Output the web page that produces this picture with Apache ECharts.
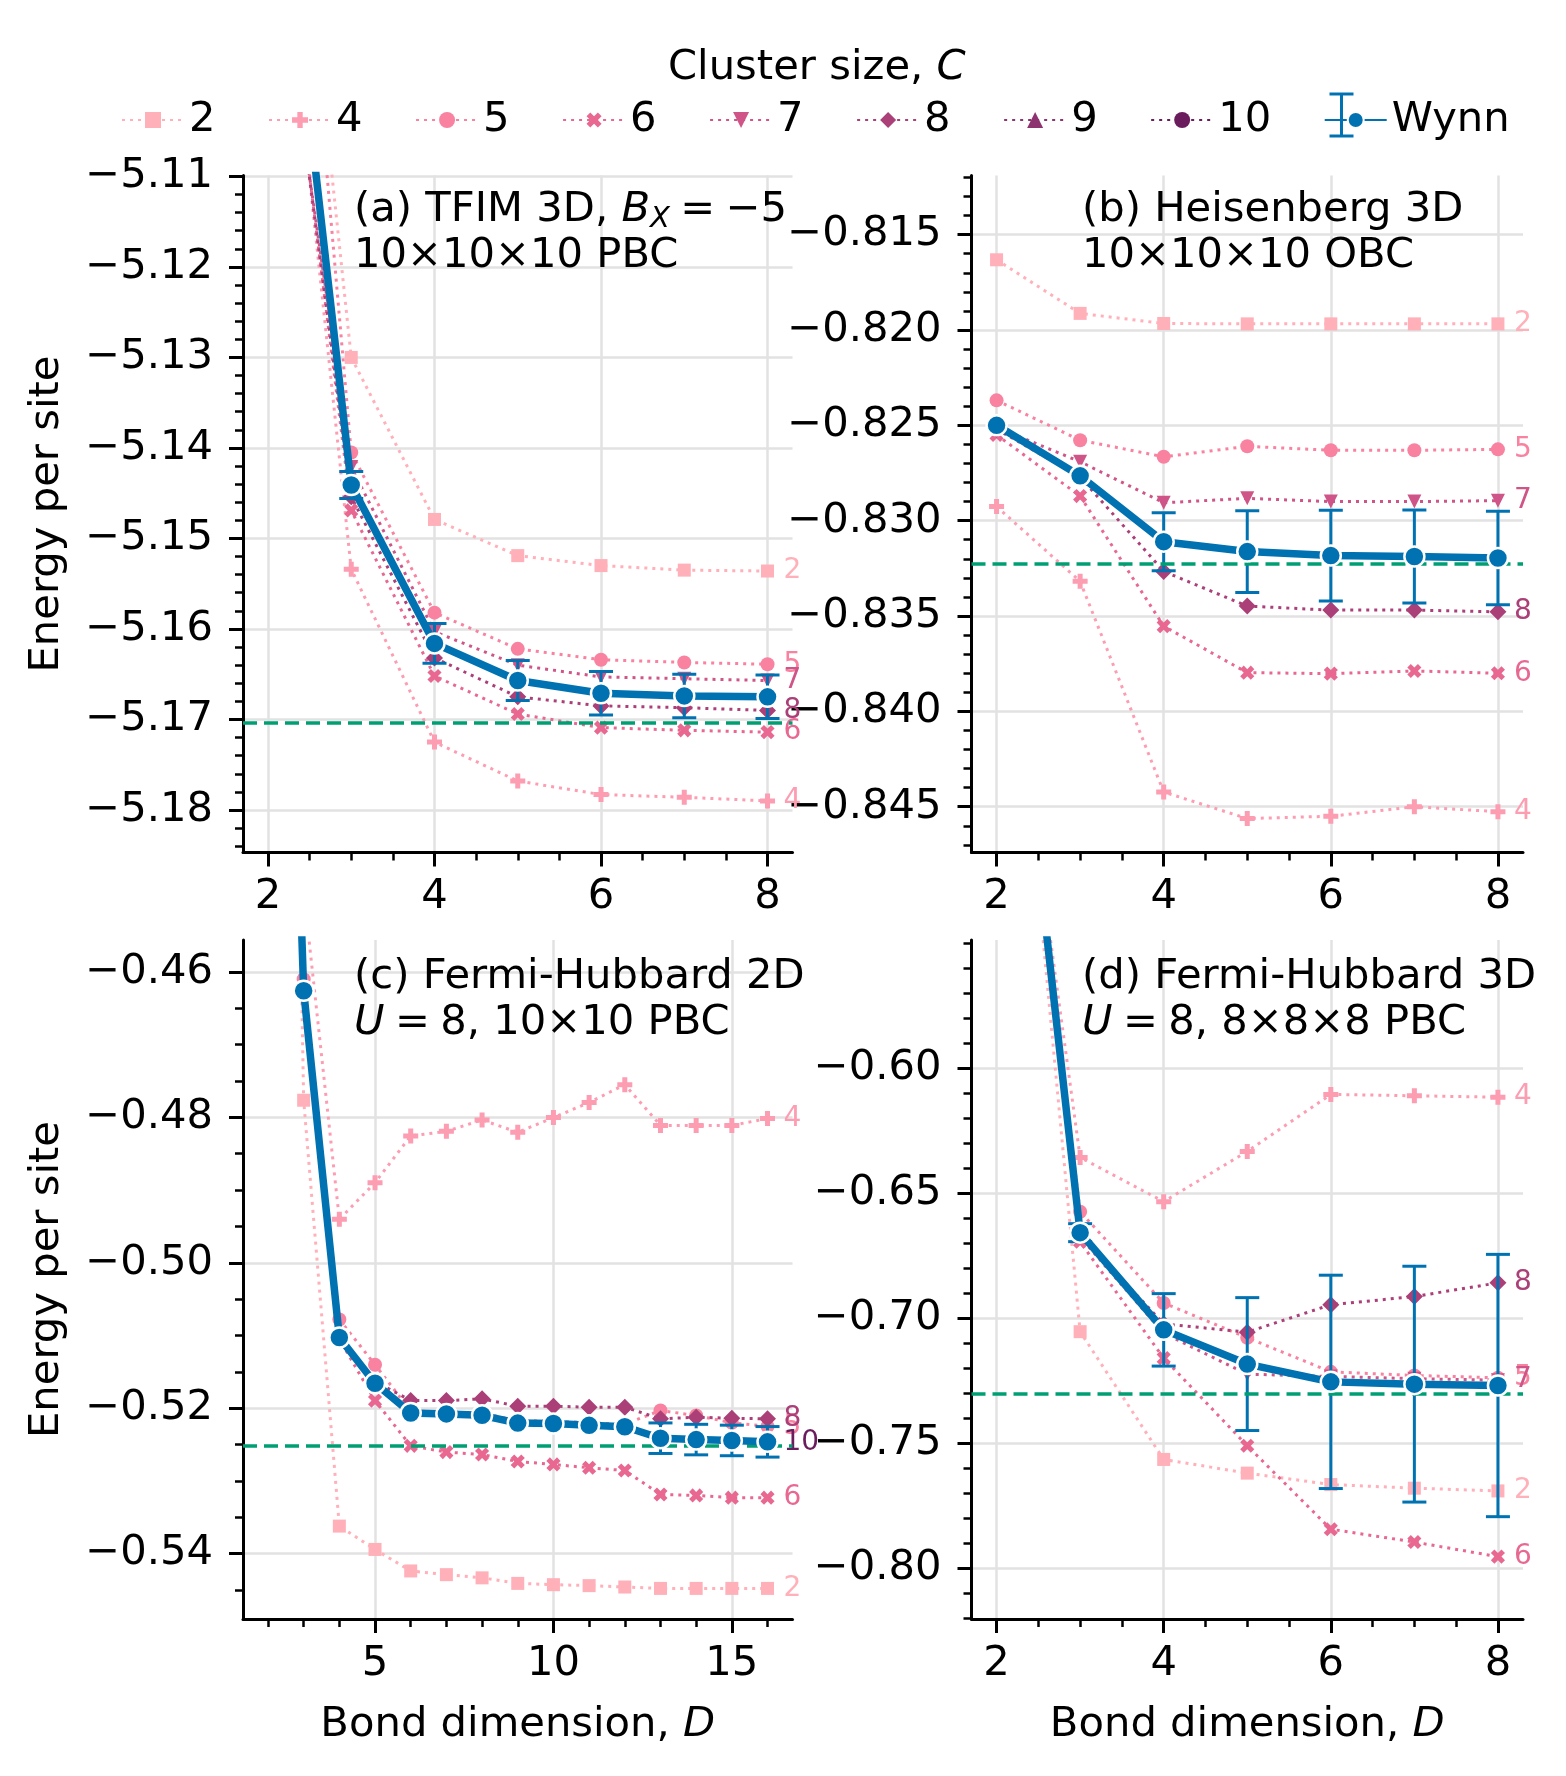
<!DOCTYPE html>
<html>
<head>
<meta charset="utf-8">
<script src="https://cdn.jsdelivr.net/npm/echarts@6.0.0/dist/echarts.min.js"></script>
<style>
html, body { margin: 0; padding: 0; background: #fff; }
#chart { width: 1566px; height: 1776px; }
</style>
</head>
<body>
<div id="chart"></div>
<script>
// ---- data (energy per site vs bond dimension D) ----
var dims8 = [2, 3, 4, 5, 6, 7, 8];
var dims16 = [2, 3, 4, 5, 6, 7, 8, 9, 10, 11, 12, 13, 14, 15, 16];

// (a) TFIM 3D
var tfimC2 = [-5.043, -5.1300, -5.1479, -5.1519, -5.1530, -5.1535, -5.1536];
var tfimC4 = [-5.067, -5.1534, -5.1725, -5.1768, -5.1783, -5.1786, -5.1790];
var tfimC5 = [-5.035, -5.1405, -5.1582, -5.1622, -5.1634, -5.1637, -5.1639];
var tfimC6 = [-5.073, -5.1469, -5.1652, -5.1694, -5.1709, -5.1712, -5.1714];
var tfimC7 = [-5.078, -5.1421, -5.1603, -5.1640, -5.1653, -5.1655, -5.1657];
var tfimC8 = [-5.075, -5.1454, -5.1632, -5.1675, -5.1685, -5.1687, -5.1690];
var tfimWynn = [-5.063, -5.1441, -5.1616, -5.1657, -5.1671, -5.1674, -5.1675];
var tfimWynnErr = [0, 0.0015, 0.0022, 0.0022, 0.0024, 0.0024, 0.0024];
var tfimRef = -5.1704;

// (b) Heisenberg 3D
var heisC2 = [-0.81632, -0.81913, -0.81966, -0.81968, -0.81968, -0.81968, -0.81968];
var heisC4 = [-0.82926, -0.83318, -0.84423, -0.84562, -0.84550, -0.84500, -0.84526];
var heisC5 = [-0.82369, -0.82578, -0.82665, -0.82610, -0.82631, -0.82631, -0.82626];
var heisC6 = [-0.82550, -0.82871, -0.83553, -0.83797, -0.83802, -0.83788, -0.83800];
var heisC7 = [-0.82510, -0.82691, -0.82906, -0.82883, -0.82900, -0.82900, -0.82895];
var heisC8 = [-0.82520, -0.82770, -0.83266, -0.83448, -0.83469, -0.83469, -0.83478];
var heisWynn = [-0.82500, -0.82765, -0.83110, -0.83162, -0.83183, -0.83188, -0.83196];
var heisWynnErr = [0, 0, 0.00152, 0.00214, 0.00238, 0.00244, 0.00245];
var heisRef = -0.83225;

// (c) Fermi-Hubbard 2D
var fh2C2 = [-0.21, -0.47764, -0.53622, -0.53943, -0.54239, -0.54290, -0.54334, -0.54410, -0.54428, -0.54441, -0.54460, -0.54479, -0.54479, -0.54479, -0.54479];
var fh2C4 = [-0.40, -0.44880, -0.49402, -0.48898, -0.48255, -0.48192, -0.48035, -0.48205, -0.48003, -0.47795, -0.47550, -0.48110, -0.48110, -0.48110, -0.48016];
var fh2C5 = [-0.32, -0.46100, -0.50780, -0.51402, -0.52040, -0.52050, -0.52070, -0.52170, -0.52180, -0.52200, -0.52220, -0.52033, -0.52101, -0.52200, -0.52250];
var fh2C6 = [-0.33, -0.46300, -0.51050, -0.51896, -0.52518, -0.52604, -0.52637, -0.52733, -0.52774, -0.52820, -0.52857, -0.53187, -0.53200, -0.53231, -0.53231];
var fh2C8 = [-0.32, -0.46250, -0.51000, -0.51630, -0.51896, -0.51896, -0.51872, -0.51973, -0.51973, -0.51986, -0.51986, -0.52147, -0.52124, -0.52138, -0.52147];
var fh2C10 = [-0.32, -0.46280, -0.51040, -0.51670, -0.52080, -0.52090, -0.52110, -0.52220, -0.52220, -0.52250, -0.52270, -0.52430, -0.52450, -0.52460, -0.52480];
var fh2Wynn = [-0.316, -0.46258, -0.51027, -0.51657, -0.52066, -0.52079, -0.52098, -0.52205, -0.52211, -0.52236, -0.52255, -0.52413, -0.52432, -0.52444, -0.52463];
var fh2WynnErr = [0, 0, 0, 0, 0, 0, 0, 0, 0, 0, 0, 0.0021, 0.0021, 0.0021, 0.0021];
var fh2Ref = -0.5252;

// (d) Fermi-Hubbard 3D
var fh3C2 = [-0.351, -0.70539, -0.75653, -0.76201, -0.76658, -0.76804, -0.76913];
var fh3C4 = [-0.390, -0.63562, -0.65333, -0.63324, -0.61041, -0.61096, -0.61151];
var fh3C5 = [-0.385, -0.65736, -0.69391, -0.70780, -0.72146, -0.72292, -0.72384];
var fh3C6 = [-0.372, -0.66940, -0.71598, -0.75105, -0.78447, -0.78959, -0.79543];
var fh3C7 = [-0.380, -0.66750, -0.70600, -0.72240, -0.72330, -0.72420, -0.72480];
var fh3C8 = [-0.378, -0.66650, -0.70228, -0.70557, -0.69461, -0.69132, -0.68584];
var fh3Wynn = [-0.368, -0.66575, -0.70466, -0.71836, -0.72548, -0.72639, -0.72694];
var fh3WynnErr = [0, 0.0036, 0.0145, 0.0266, 0.0427, 0.0472, 0.0525];
var fh3Ref = -0.73023;

// tick labels
var xTicks8 = [2, 4, 6, 8];
var xTicks16 = [5, 10, 15];
var yTicksA = [-5.18, -5.17, -5.16, -5.15, -5.14, -5.13, -5.12, -5.11];
var yTicksB = [-0.845, -0.840, -0.835, -0.830, -0.825, -0.820, -0.815];
var yTicksC = [-0.54, -0.52, -0.50, -0.48, -0.46];
var yTicksD = [-0.80, -0.75, -0.70, -0.65, -0.60];

var legendNames = ['2', '4', '5', '6', '7', '8', '9', '10', 'Wynn'];

// ---- styles ----
var FONT = 'DejaVu Sans';
var BLUE = '#0072b2';
var GREEN = '#009e73';
var GRIDC = '#e2e2e2';
var SP = '\u2005';
var plusPath = 'path://M-1,-3H1V-1H3V1H1V3H-1V1H-3V-1H-1Z';
var clusterStyle = {
  '2':  { color: '#ffb0b9', symbol: 'rect', size: 13 },
  '4':  { color: '#fd9db2', symbol: plusPath, size: 15 },
  '5':  { color: '#f8829f', symbol: 'circle', size: 14 },
  '6':  { color: '#e86891', symbol: plusPath, size: 15, rotate: 45 },
  '7':  { color: '#cf5487', symbol: 'triangle', size: 14, rotate: 180 },
  '8':  { color: '#ab3f77', symbol: 'diamond', size: 17 },
  '9':  { color: '#8c3370', symbol: 'triangle', size: 13 },
  '10': { color: '#6b1c5c', symbol: 'circle', size: 10 }
};

function stepTicks(lo, hi, step) {
  var out = [];
  var k0 = Math.ceil(lo / step - 1e-9), k1 = Math.floor(hi / step + 1e-9);
  for (var k = k0; k <= k1; k++) out.push(+(k * step).toFixed(6));
  return out;
}
function pairs(xs, ys) {
  return xs.map(function (x, i) { return [x, ys[i]]; });
}
function minusFmt(dec) {
  return function (v) { return (v < 0 ? '\u2212' : '') + Math.abs(v).toFixed(dec); };
}

var panels = [
  { grid: { left: 243, top: 175.5, width: 549.5, height: 677 },
    xMin: 1.7, xMax: 8.3, xTicks: xTicks8, xMinor: 0.5,
    yMin: -5.1847, yMax: -5.1099, yTicks: yTicksA, yMinor: 0.002, yDec: 2,
    yName: 'Energy per site', xName: '',
    dims: dims8, curves: { '2': tfimC2, '4': tfimC4, '5': tfimC5, '6': tfimC6, '7': tfimC7, '8': tfimC8 },
    wynn: tfimWynn, err: tfimWynnErr, ref: tfimRef,
    text: '(a) TFIM 3D, {i|B}{s|X}' + SP + '=' + SP + '\u22125\n10\u00d710\u00d710 PBC', tx: 349, ty: 182.5 },
  { grid: { left: 971.5, top: 175.5, width: 551.5, height: 677 },
    xMin: 1.7, xMax: 8.3, xTicks: xTicks8, xMinor: 0.5,
    yMin: -0.8474, yMax: -0.8119, yTicks: yTicksB, yMinor: 0.001, yDec: 3,
    yName: '', xName: '',
    dims: dims8, curves: { '2': heisC2, '4': heisC4, '5': heisC5, '6': heisC6, '7': heisC7, '8': heisC8 },
    wynn: heisWynn, err: heisWynnErr, ref: heisRef,
    text: '(b) Heisenberg 3D\n10\u00d710\u00d710 OBC', tx: 1077, ty: 182.5 },
  { grid: { left: 243, top: 940, width: 549.5, height: 679 },
    xMin: 1.3, xMax: 16.7, xTicks: xTicks16, xMinor: 1,
    yMin: -0.549, yMax: -0.4556, yTicks: yTicksC, yMinor: 0.005, yDec: 2,
    yName: 'Energy per site', xName: 'Bond dimension, {i|D}',
    dims: dims16, curves: { '2': fh2C2, '4': fh2C4, '5': fh2C5, '6': fh2C6, '8': fh2C8, '10': fh2C10 },
    wynn: fh2Wynn, err: fh2WynnErr, ref: fh2Ref,
    text: '(c) Fermi-Hubbard 2D\n{i|U}' + SP + '=' + SP + '8, 10\u00d710 PBC', tx: 349, ty: 949 },
  { grid: { left: 971.5, top: 940, width: 551.5, height: 679 },
    xMin: 1.7, xMax: 8.3, xTicks: xTicks8, xMinor: 0.5,
    yMin: -0.8204, yMax: -0.5486, yTicks: yTicksD, yMinor: 0.01, yDec: 2,
    yName: '', xName: 'Bond dimension, {i|D}',
    dims: dims8, curves: { '2': fh3C2, '4': fh3C4, '5': fh3C5, '6': fh3C6, '7': fh3C7, '8': fh3C8 },
    wynn: fh3Wynn, err: fh3WynnErr, ref: fh3Ref,
    text: '(d) Fermi-Hubbard 3D\n{i|U}' + SP + '=' + SP + '8, 8\u00d78\u00d78 PBC', tx: 1077, ty: 949 }
];

var richText = {
  i: { fontStyle: 'italic', fontSize: 41.7, fontFamily: FONT, lineHeight: 46, color: '#000' },
  s: { fontStyle: 'italic', fontSize: 29, fontFamily: FONT, lineHeight: 22, verticalAlign: 'bottom', color: '#000' }
};

var grids = [], xAxes = [], yAxes = [], series = [], titles = [];

titles.push({
  text: 'Cluster size, {i|C}', left: 663, top: 40,
  textStyle: { fontSize: 41.7, fontWeight: 'normal', fontFamily: FONT, color: '#000', lineHeight: 46, rich: richText }
});

panels.forEach(function (p, gi) {
  grids.push({ left: p.grid.left, top: p.grid.top, width: p.grid.width, height: p.grid.height, outerBoundsMode: 'none' });

  xAxes.push({
    gridIndex: gi, type: 'value', position: 'bottom', min: p.xMin, max: p.xMax,
    axisLine: { show: true, onZero: false, lineStyle: { color: '#000', width: 3 } },
    axisTick: { show: true, customValues: p.xTicks, length: 14, lineStyle: { color: '#000', width: 3 } },
    axisLabel: { show: true, customValues: p.xTicks, margin: 24, fontSize: 41.7, color: '#000', fontFamily: FONT },
    splitLine: { show: true, lineStyle: { color: GRIDC, width: 2.5 } },
    name: p.xName, nameLocation: 'middle', nameGap: 83,
    nameTextStyle: { fontSize: 41.7, color: '#000', fontFamily: FONT, rich: richText }
  });
  xAxes.push({
    gridIndex: gi, type: 'value', position: 'bottom', min: p.xMin, max: p.xMax,
    axisLine: { show: false },
    axisTick: { show: true, customValues: stepTicks(p.xMin, p.xMax, p.xMinor), length: 8, lineStyle: { color: '#000', width: 2.5 } },
    axisLabel: { show: false }, splitLine: { show: false }
  });
  yAxes.push({
    gridIndex: gi, type: 'value', position: 'left', min: p.yMin, max: p.yMax,
    axisLine: { show: true, onZero: false, lineStyle: { color: '#000', width: 3 } },
    axisTick: { show: true, customValues: p.yTicks, length: 14, lineStyle: { color: '#000', width: 3 } },
    axisLabel: { show: true, customValues: p.yTicks, margin: 30, fontSize: 41.7, color: '#000', fontFamily: FONT, formatter: minusFmt(p.yDec) },
    splitLine: { show: true, lineStyle: { color: GRIDC, width: 2.5 } },
    name: p.yName, nameLocation: 'middle', nameGap: 175,
    nameTextStyle: { fontSize: 41.7, color: '#000', fontFamily: FONT }
  });
  yAxes.push({
    gridIndex: gi, type: 'value', position: 'left', min: p.yMin, max: p.yMax,
    axisLine: { show: false },
    axisTick: { show: true, customValues: stepTicks(p.yMin, p.yMax, p.yMinor), length: 8, lineStyle: { color: '#000', width: 2.5 } },
    axisLabel: { show: false }, splitLine: { show: false }
  });

  var ax = gi * 2;
  Object.keys(p.curves).forEach(function (name) {
    var st = clusterStyle[name];
    series.push({
      type: 'line', name: name, xAxisIndex: ax, yAxisIndex: ax,
      data: pairs(p.dims, p.curves[name]),
      symbol: st.symbol, symbolSize: st.size, symbolRotate: st.rotate || 0,
      itemStyle: { color: st.color },
      lineStyle: { color: st.color, width: 3, type: [3, 5] },
      endLabel: { show: true, formatter: name, color: st.color, fontSize: 28, fontFamily: FONT, distance: 16 },
      silent: true, z: 2
    });
  });

  series.push({
    type: 'custom', name: 'wynn-err', xAxisIndex: ax, yAxisIndex: ax, z: 4, silent: true, clip: true,
    data: p.dims.map(function (d, i) { return [d, p.wynn[i] - p.err[i], p.wynn[i] + p.err[i]]; }),
    encode: { x: 0, y: [1, 2] },
    renderItem: function (params, api) {
      var lo = api.value(1), hi = api.value(2);
      if (!(hi - lo > 0)) return;
      var top = api.coord([api.value(0), hi]);
      var bot = api.coord([api.value(0), lo]);
      var st = { stroke: BLUE, lineWidth: 3 };
      return { type: 'group', children: [
        { type: 'line', shape: { x1: top[0], y1: top[1], x2: bot[0], y2: bot[1] }, style: st },
        { type: 'line', shape: { x1: top[0] - 12, y1: top[1], x2: top[0] + 12, y2: top[1] }, style: st },
        { type: 'line', shape: { x1: bot[0] - 12, y1: bot[1], x2: bot[0] + 12, y2: bot[1] }, style: st }
      ] };
    }
  });

  series.push({
    type: 'line', name: 'Wynn', xAxisIndex: ax, yAxisIndex: ax,
    data: pairs(p.dims, p.wynn),
    symbol: 'circle', symbolSize: 20,
    itemStyle: { color: BLUE, borderColor: '#fff', borderWidth: 2.5 },
    lineStyle: { color: BLUE, width: 7.5 },
    silent: true, z: 5,
    markLine: {
      silent: true, symbol: ['none', 'none'], label: { show: false }, precision: 6,
      lineStyle: { color: GREEN, width: 3.5, type: [14, 7] },
      data: [{ yAxis: p.ref }]
    }
  });

  titles.push({
    text: p.text, left: p.tx, top: p.ty,
    textStyle: { fontSize: 41.7, fontWeight: 'normal', fontFamily: FONT, color: '#000', lineHeight: 46, rich: richText }
  });
});

// legend-only entry for C = 9
series.push({
  type: 'line', name: '9', xAxisIndex: 4, yAxisIndex: 4, data: [],
  symbol: clusterStyle['9'].symbol, symbolSize: clusterStyle['9'].size,
  itemStyle: { color: clusterStyle['9'].color },
  lineStyle: { color: clusterStyle['9'].color, width: 3, type: [3, 5] }
});

var chart = echarts.init(document.getElementById('chart'));
chart.setOption({
  animation: false,
  backgroundColor: '#fff',
  title: titles,
  legend: {
    data: legendNames, left: 116, top: 92, itemWidth: 62, itemHeight: 20, itemGap: 52.5,
    textStyle: { fontSize: 41.7, color: '#000', fontFamily: FONT, lineHeight: 46 },
    selectedMode: false
  },
  graphic: [
    { type: 'line', shape: { x1: 1341.5, y1: 94, x2: 1341.5, y2: 136 }, style: { stroke: BLUE, lineWidth: 3 } },
    { type: 'line', shape: { x1: 1329.5, y1: 94, x2: 1353.5, y2: 94 }, style: { stroke: BLUE, lineWidth: 3 } },
    { type: 'line', shape: { x1: 1329.5, y1: 136, x2: 1353.5, y2: 136 }, style: { stroke: BLUE, lineWidth: 3 } }
  ],
  grid: grids,
  xAxis: xAxes,
  yAxis: yAxes,
  series: series
});
window.onresize = function () { chart.resize(); };
</script>
</body>
</html>
